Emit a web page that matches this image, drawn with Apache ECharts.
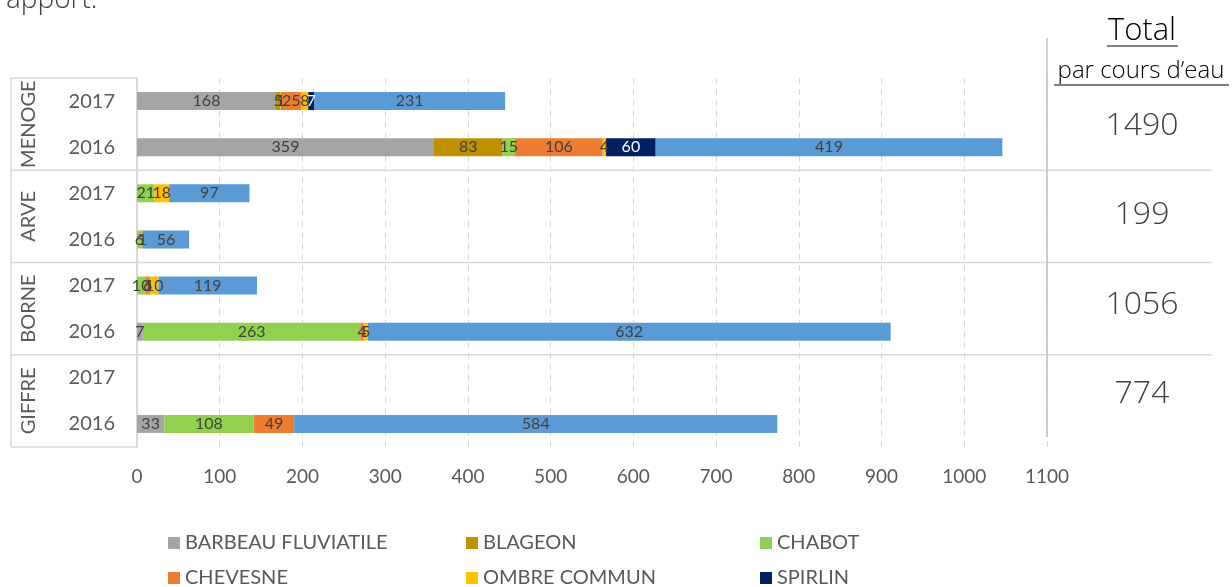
<!DOCTYPE html>
<html>
<head>
<meta charset="utf-8">
<script src="https://cdn.jsdelivr.net/npm/echarts@6/dist/echarts.min.js"></script>
<style>
  html, body { margin: 0; padding: 0; background: #fff; }
  #chart { width: 1232px; height: 587px; }
</style>
</head>
<body>
<div id="chart"></div>
<script>
// Rows, top to bottom: river + year
const rivers = ['MENOGE', 'ARVE', 'BORNE', 'GIFFRE'];
const rowKeys = ['MENOGE 2017', 'MENOGE 2016', 'ARVE 2017', 'ARVE 2016',
                 'BORNE 2017', 'BORNE 2016', 'GIFFRE 2017', 'GIFFRE 2016'];

// Fish counts per species, in the same row order
const barbeau  = [168, 359, 0, 0, 0, 7, 0, 33];
const blageon  = [5, 83, 0, 0, 0, 0, 0, 0];
const chabot   = [1, 15, 21, 6, 10, 263, 0, 108];
const chevesne = [25, 106, 0, 1, 6, 4, 0, 49];
const ombre    = [8, 4, 18, 0, 10, 5, 0, 0];
const spirlin  = [7, 60, 0, 0, 0, 0, 0, 0];
const truite   = [231, 419, 97, 56, 119, 632, 0, 584];

// Totals per river
const totals = [1490, 199, 1056, 774];
const xTicks = [0, 100, 200, 300, 400, 500, 600, 700, 800, 900, 1000, 1100];

const speciesList = [
  { name: 'BARBEAU FLUVIATILE', data: barbeau,  color: '#A5A5A5', text: '#404040' },
  { name: 'BLAGEON',            data: blageon,  color: '#BF9000', text: '#404040' },
  { name: 'CHABOT',             data: chabot,   color: '#92D050', text: '#404040' },
  { name: 'CHEVESNE',           data: chevesne, color: '#ED7D31', text: '#404040' },
  { name: 'OMBRE COMMUN',       data: ombre,    color: '#FFC000', text: '#404040' },
  { name: 'SPIRLIN',            data: spirlin,  color: '#002060', text: '#FFFFFF' },
  { name: 'TRUITE FARIO',       data: truite,   color: '#5B9BD5', text: '#404040' }
];

const FONT = 'Lato, "Open Sans", sans-serif';
const LIGHT = '"Open Sans", Lato, sans-serif';
const GRID = { left: 137, right: 185, top: 78, bottom: 140 };

// Legend grid: three columns, rows 35px apart (third row falls below the page)
const legendCols = [163, 461, 755];
const legendRows = [528, 563, 598];
// Vertical centres of the totals column cells
const totalsY = [126, 215, 305, 394];

const chart = echarts.init(document.getElementById('chart'), null, { renderer: 'canvas' });

const series = speciesList.map(s => ({
  name: s.name,
  type: 'bar',
  stack: 'total',
  barWidth: 18,
  itemStyle: { color: s.color },
  label: {
    show: true,
    position: 'inside',
    color: s.text,
    fontFamily: FONT,
    fontSize: 16,
    formatter: p => (p.value > 0 ? String(p.value) : '')
  },
  data: s.data.map(v => (v > 0 ? v : '-'))
}));

const legends = speciesList.map((s, i) => ({
  left: legendCols[i % 3],
  top: legendRows[Math.floor(i / 3)],
  data: [s.name],
  itemWidth: 12, itemHeight: 12, itemGap: 8,
  icon: 'rect',
  selectedMode: false,
  textStyle: { color: '#595959', fontSize: 20, fontFamily: FONT }
}));

chart.setOption({
  animation: false,
  grid: GRID,
  legend: legends,
  xAxis: {
    type: 'value',
    min: xTicks[0],
    max: xTicks[xTicks.length - 1],
    interval: 100,
    axisLine: { show: false },
    axisTick: { show: false },
    axisLabel: { color: '#595959', fontSize: 19, fontFamily: FONT, margin: 20, formatter: v => String(v) },
    splitLine: { lineStyle: { color: '#D9D9D9', type: [6, 5], width: 1 } }
  },
  yAxis: {
    type: 'category',
    inverse: true,
    data: rowKeys,
    axisLine: { show: true, lineStyle: { color: '#D9D9D9', width: 2 } },
    axisTick: { show: false },
    axisLabel: {
      color: '#595959', fontSize: 20, fontFamily: FONT, margin: 22,
      formatter: v => v.split(' ')[1]
    }
  },
  series: series
});

// Group labels, separators and the totals column
function drawFrame() {
  const g = [];
  const rowY = rowKeys.map(k => chart.convertToPixel({ yAxisIndex: 0 }, k));
  const half = (rowY[1] - rowY[0]) / 2;
  const top = rowY[0] - half;
  const lineStyle = { stroke: '#D9D9D9', lineWidth: 1.5 };
  const leftX = 11;
  const axisX = GRID.left;

  // left frame
  g.push({ type: 'line', shape: { x1: leftX, y1: top, x2: leftX, y2: top + half * 2 * rowKeys.length }, style: lineStyle, silent: true });
  g.push({ type: 'line', shape: { x1: leftX, y1: top, x2: axisX, y2: top }, style: lineStyle, silent: true });

  rivers.forEach((r, i) => {
    const y0 = rowY[i * 2] - half;
    const y1 = rowY[i * 2 + 1] + half;
    const yc = (y0 + y1) / 2;
    const last = i === rivers.length - 1;
    // separator below each river
    g.push({ type: 'line', shape: { x1: leftX, y1: y1, x2: last ? axisX : 1212, y2: y1 }, style: lineStyle, silent: true });
    // rotated river name
    g.push({
      type: 'text', x: 29, y: yc, rotation: Math.PI / 2,
      style: { text: r, fill: '#595959', font: '20px ' + FONT, align: 'center', verticalAlign: 'middle' },
      silent: true
    });
    // total per river
    g.push({
      type: 'text', x: 1142, y: totalsY[i],
      style: { text: String(totals[i]), fill: '#404040', font: '300 32px ' + LIGHT, align: 'center', verticalAlign: 'middle' },
      silent: true
    });
  });

  // vertical divider of the totals column
  g.push({ type: 'line', shape: { x1: 1047, y1: 38, x2: 1047, y2: 437 }, style: { stroke: '#BFBFBF', lineWidth: 1.5 }, silent: true });

  // totals header, underlined
  g.push({ type: 'text', x: 1142, y: 31, style: { text: 'Total', fill: '#000', font: '300 31px ' + LIGHT, align: 'center', verticalAlign: 'middle' }, silent: true });
  g.push({ type: 'line', shape: { x1: 1107, y1: 46, x2: 1178, y2: 46 }, style: { stroke: '#000', lineWidth: 1 }, silent: true });
  g.push({ type: 'text', x: 1141, y: 71, style: { text: 'par cours d\u2019eau', fill: '#000', font: '300 24px ' + LIGHT, align: 'center', verticalAlign: 'middle' }, silent: true });
  g.push({ type: 'line', shape: { x1: 1054, y1: 85, x2: 1229, y2: 85 }, style: { stroke: '#000', lineWidth: 1 }, silent: true });

  // end of the preceding paragraph, clipped at the top edge
  g.push({ type: 'text', x: 6, y: 14, style: { text: 'apport.', fill: '#404040', font: '300 28px ' + LIGHT, align: 'left', verticalAlign: 'bottom' }, silent: true });

  chart.setOption({ graphic: { elements: g } });
}
drawFrame();
</script>
</body>
</html>
